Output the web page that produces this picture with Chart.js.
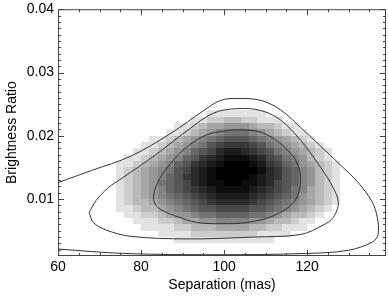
<!DOCTYPE html>
<html>
<head>
<meta charset="utf-8">
<script src="https://cdn.jsdelivr.net/npm/chart.js@4.4.1/dist/chart.umd.min.js"></script>
<style>
  html, body { margin: 0; padding: 0; background: #fff; }
</style>
</head>
<body>
<canvas id="c" width="388" height="298"></canvas>
<script>
// density image: 2 mas x 0.001 bins, one hex digit per bin (0 = white, f = black)
// first row is the bin 0.023-0.024, columns start at 72 mas
const binLeft = 72, binWidth = 2;
const binTop = 0.024, binHeight = 0.001;
const densityRows = [
  "00000000000011111110000000000",
  "00000000001122332211100000000",
  "00000000112344555433211000000",
  "00000001123456777654321100000",
  "00000112345678999876543210000",
  "0000112345679abbba97654321000",
  "000112345689acddcba9765432100",
  "00112345689bcdeeedca976532100",
  "0112345689bcdefffedba87543210",
  "012345679acdefffffecb98653210",
  "012345689bcdeffffedcb98653210",
  "012345789acdeeffeedca98653210",
  "012345689abcdeeeedcba97643210",
  "0123456789abcddddcba987543210",
  "01233456789abccccba9876543210",
  "0112334567899aaaa998765432100",
  "00112234556778888776543321000",
  "00011122344556666554332110000",
  "00001111223334444332211100000",
  "00000011112222222211110000000",
  "00000000111111111111000000000"
];

// contour lines
const innerX = [101.6, 96.0, 91.2, 87.2, 84.0, 83.0, 84.0, 88.0, 93.6, 99.2, 105.6, 112.0, 116.8, 118.4, 117.6, 114.4, 109.6, 105.6, 101.6];
const innerY = [0.0209, 0.0202, 0.0183, 0.0157, 0.0126, 0.0102, 0.0087, 0.0074, 0.0063, 0.0061, 0.0063, 0.0074, 0.0095, 0.0126, 0.0157, 0.0183, 0.0204, 0.0209, 0.0209];
const middleX = [67.5, 69.2, 72.1, 75.2, 83.1, 91.3, 97.5, 103.3, 108.8, 113.6, 118.4, 122.5, 125.6, 127.5, 126.3, 123.9, 118.4, 107.1, 91.3, 77.6, 71.6, 68.5, 67.5];
const middleY = [0.0079, 0.0098, 0.0118, 0.0132, 0.0168, 0.0209, 0.0236, 0.0243, 0.0240, 0.0225, 0.0193, 0.0157, 0.0126, 0.0095, 0.0071, 0.0059, 0.0044, 0.0040, 0.0037, 0.0041, 0.0051, 0.0063, 0.0079];
const outerX = [60, 68, 77.6, 87.2, 95.1, 99.2, 103.2, 108.8, 113.6, 119.1, 123.2, 128.0, 132.3, 135.7, 136.9, 137.1, 135.7, 129.9, 119.6, 98.5, 76, 60];
const outerY = [0.0126, 0.0145, 0.0168, 0.0204, 0.0240, 0.0256, 0.0259, 0.0256, 0.0241, 0.0209, 0.0184, 0.0154, 0.0126, 0.0095, 0.0071, 0.0044, 0.0032, 0.0019, 0.0014, 0.0012, 0.0014, 0.0021];

// axes
const xMajor = [60, 80, 100, 120];
const xMinor = [65, 70, 75, 85, 90, 95, 105, 110, 115, 125, 130, 135];
const yMajor = [0.01, 0.02, 0.03, 0.04];
const yMinor = [0.002, 0.003, 0.004, 0.005, 0.006, 0.007, 0.008, 0.009,
  0.011, 0.012, 0.013, 0.014, 0.015, 0.016, 0.017, 0.018, 0.019,
  0.021, 0.022, 0.023, 0.024, 0.025, 0.026, 0.027, 0.028, 0.029,
  0.031, 0.032, 0.033, 0.034, 0.035, 0.036, 0.037, 0.038, 0.039];

const toPoints = (xs, ys) => xs.map((x, i) => ({ x: x, y: ys[i] }));

const heatmap = {
  id: "heatmap",
  beforeDatasetsDraw(chart) {
    const { ctx, chartArea: a, scales: { x, y } } = chart;
    ctx.save();
    ctx.beginPath();
    ctx.rect(a.left, a.top, a.width, a.height);
    ctx.clip();
    densityRows.forEach((row, r) => {
      const yHi = binTop - r * binHeight;
      const yLo = yHi - binHeight;
      [...row].forEach((ch, c) => {
        const v = parseInt(ch, 16);
        if (!v) return;
        const xLo = binLeft + c * binWidth;
        const px0 = Math.round(x.getPixelForValue(xLo));
        const px1 = Math.round(x.getPixelForValue(xLo + binWidth));
        const py0 = Math.round(y.getPixelForValue(yHi));
        const py1 = Math.round(y.getPixelForValue(yLo));
        // slightly darker mid tones, like the original grey table
        const g = Math.round(255 * (1 - Math.pow(v / 15, 0.8)));
        ctx.fillStyle = `rgb(${g},${g},${g})`;
        ctx.fillRect(px0, py0, px1 - px0, py1 - py0);
      });
    });
    ctx.restore();
  },
};

// IDL style box with inward ticks on all four sides
const frame = {
  id: "frame",
  afterDatasetsDraw(chart) {
    const { ctx, chartArea: a, scales: { x, y } } = chart;
    ctx.save();
    ctx.strokeStyle = "#444";
    ctx.lineWidth = 1;
    ctx.strokeRect(a.left + 0.5, a.top + 0.5, a.width - 1, a.height - 1);
    ctx.beginPath();
    const xTick = (v, len) => {
      const px = Math.round(x.getPixelForValue(v)) + 0.5;
      ctx.moveTo(px, a.bottom); ctx.lineTo(px, a.bottom - len);
      ctx.moveTo(px, a.top); ctx.lineTo(px, a.top + len);
    };
    const yTick = (v, len) => {
      const py = Math.round(y.getPixelForValue(v)) + 0.5;
      ctx.moveTo(a.left, py); ctx.lineTo(a.left + len, py);
      ctx.moveTo(a.right, py); ctx.lineTo(a.right - len, py);
    };
    xMajor.forEach(v => xTick(v, 6));
    xMinor.forEach(v => xTick(v, 3));
    yMajor.forEach(v => yTick(v, 6));
    yMinor.forEach(v => yTick(v, 3));
    ctx.stroke();
    ctx.restore();
  },
};

const family = "'Liberation Sans', Arial, sans-serif";
const line = { showLine: true, borderColor: "#333", borderWidth: 1, pointRadius: 0, tension: 0.35, fill: false };

new Chart(document.getElementById("c"), {
  type: "scatter",
  data: {
    datasets: [
      { ...line, data: toPoints(innerX, innerY) },
      { ...line, data: toPoints(middleX, middleY) },
      { ...line, data: toPoints(outerX, outerY) },
    ],
  },
  options: {
    responsive: false,
    animation: false,
    devicePixelRatio: 1,
    layout: { padding: { top: 0, right: 2, bottom: 6, left: 2 } },
    plugins: { legend: { display: false }, tooltip: { enabled: false } },
    scales: {
      x: {
        type: "linear",
        min: 60,
        max: 139,
        afterBuildTicks: s => { s.ticks = xMajor.map(v => ({ value: v })); },
        ticks: { font: { family: family, size: 14, lineHeight: 1 }, color: "#000", padding: 4, maxRotation: 0 },
        grid: { display: false, drawTicks: false },
        border: { display: false },
        title: { display: true, text: "Separation (mas)", font: { family: family, size: 14, lineHeight: 1 }, color: "#000", padding: { top: 0, bottom: 0 } },
      },
      y: {
        type: "linear",
        min: 0.001,
        max: 0.04,
        afterBuildTicks: s => { s.ticks = yMajor.map(v => ({ value: v })); },
        ticks: { font: { family: family, size: 14, lineHeight: 0.75 }, color: "#000", padding: 4, callback: v => v.toFixed(2) },
        grid: { display: false, drawTicks: false },
        border: { display: false },
        title: { display: true, text: "Brightness Ratio", font: { family: family, size: 14 }, color: "#000", padding: { top: 2, bottom: 2 } },
      },
    },
  },
  plugins: [heatmap, frame],
});
</script>
</body>
</html>
